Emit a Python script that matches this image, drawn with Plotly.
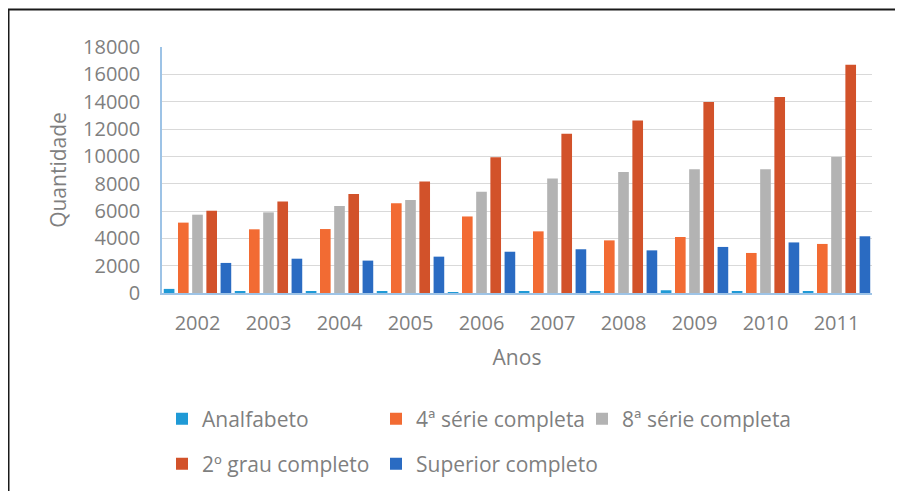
import plotly.graph_objects as go

anos = ["2002", "2003", "2004", "2005", "2006", "2007", "2008", "2009", "2010", "2011"]
analfabeto = [300, 90, 80, 90, 70, 80, 90, 200, 100, 80]
quarta_serie = [5150, 4660, 4680, 6560, 5600, 4510, 3850, 4100, 2930, 3590]
oitava_serie = [5730, 5900, 6370, 6800, 7410, 8370, 8850, 9050, 9050, 9950]
segundo_grau = [6020, 6700, 7240, 8150, 9930, 11660, 12630, 13980, 14340, 16700]
superior = [2200, 2510, 2370, 2660, 3020, 3200, 3120, 3370, 3700, 4150]

series_names = ["Analfabeto", "4ª série completa", "8ª série completa",
                "2º grau completo", "Superior completo"]
series_values = [analfabeto, quarta_serie, oitava_serie, segundo_grau, superior]
series_colors = ["#1F9AD6", "#F26B33", "#B3B3B3", "#D2522A", "#2A6BC2"]

FONT = "Open Sans"
GREY = "#7F7F7F"

# page has an 8px body margin: figure pixel = reference pixel - 8
OFF = 8
W, H = 895, 483
L = 162 - OFF
T = 47 - OFF
R = W - (872 - OFF)
B = H - (293 - OFF)
pw, ph = W - L - R, H - T - B

def px(x):
    return (x - OFF - L) / pw

def py(y):
    return (H - B - (y - OFF)) / ph

# legend slot (reference pixel x of legend box, y of row centre) for each series
legend_slots = [(162, 419), (376, 419), (582, 419), (162, 464), (376, 464)]

fig = go.Figure()
legend_layout = {}
for i, (name, vals, color) in enumerate(zip(series_names, series_values, series_colors)):
    key = "legend" if i == 0 else f"legend{i + 1}"
    fig.add_trace(go.Bar(x=anos, y=vals, name=name,
                         marker=dict(color=color, line=dict(width=0)), legend=key))
    lx, ly = legend_slots[i]
    legend_layout[key] = dict(orientation="h", x=px(lx), y=py(ly), xanchor="left", yanchor="middle",
                              font=dict(size=21, color=GREY), itemclick=False,
                              bgcolor="rgba(0,0,0,0)")

fig.update_layout(
    width=W, height=H,
    margin=dict(l=L, r=R, t=T, b=B, autoexpand=False),
    paper_bgcolor="white", plot_bgcolor="white",
    barmode="group", bargap=0.0, bargroupgap=0.25,
    font=dict(family=FONT, color=GREY, size=20),
    xaxis=dict(
        showline=True, linecolor="#9DC3E6", linewidth=1.5, automargin=False,
        tickfont=dict(size=20, color=GREY), ticks="", ticklabelstandoff=11,
        title=dict(text="Anos", font=dict(size=21, color=GREY), standoff=16),
    ),
    yaxis=dict(
        range=[0, 18000], dtick=2000, tickformat="d", showgrid=True, gridcolor="#D9D9D9", gridwidth=1,
        showline=True, linecolor="#9DC3E6", linewidth=1.5, zeroline=False, automargin=False,
        tickfont=dict(size=20, color=GREY), ticks="", ticklabelstandoff=16,
        title=dict(text="Quantidade", font=dict(size=21, color=GREY), standoff=11),
    ),
    showlegend=True,
    shapes=[
        dict(type="line", xref="paper", yref="paper", x0=px(8), x1=px(910), y0=py(9.5), y1=py(9.5),
             line=dict(color="#1A1A1A", width=2)),
        dict(type="line", xref="paper", yref="paper", x0=px(8.5), x1=px(8.5), y0=py(9), y1=py(500),
             line=dict(color="#1A1A1A", width=2)),
    ],
    **legend_layout,
)

fig.write_html("out.html")
